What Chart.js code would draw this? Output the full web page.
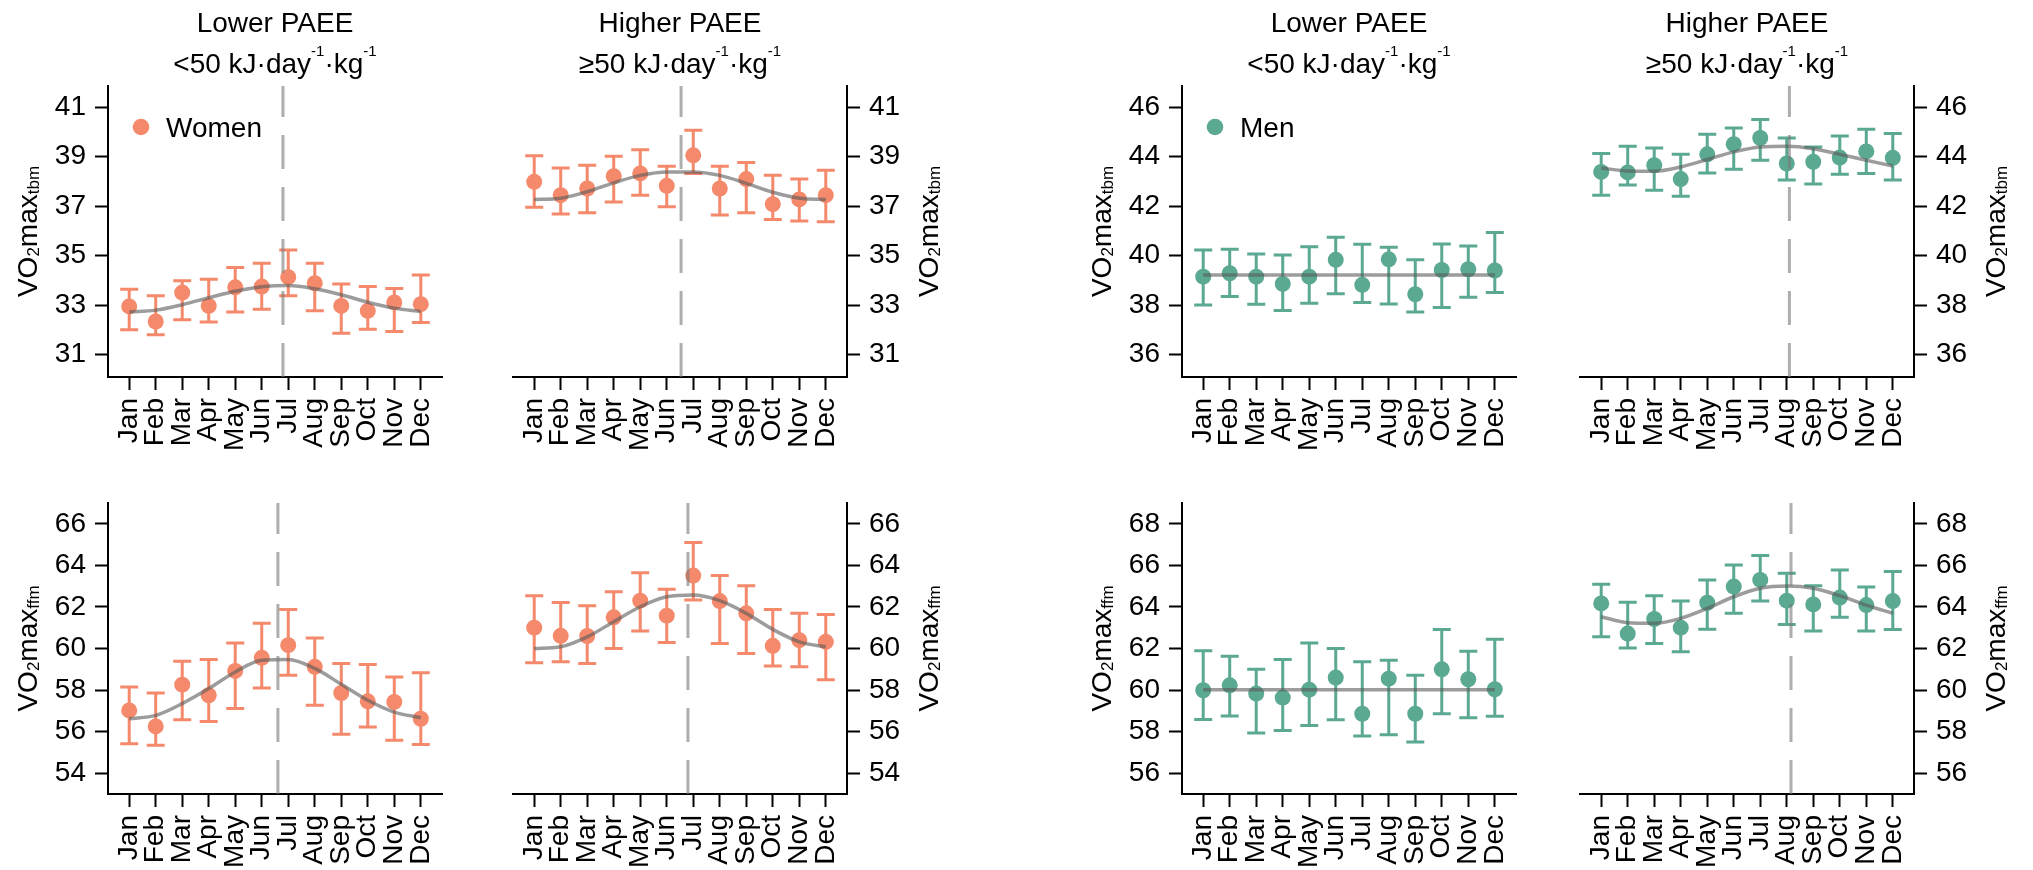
<!DOCTYPE html>
<html>
<head>
<meta charset="utf-8">
<script src="https://cdn.jsdelivr.net/npm/chart.js@4.4.1/dist/chart.umd.min.js"></script>
<style>
  body { margin: 0; background: #fff; width: 2033px; height: 870px; overflow: hidden; position: relative; }
  canvas { position: absolute; }
</style>
</head>
<body>
<canvas id="c1"></canvas>
<canvas id="c2"></canvas>
<canvas id="c3"></canvas>
<canvas id="c4"></canvas>
<canvas id="c5"></canvas>
<canvas id="c6"></canvas>
<canvas id="c7"></canvas>
<canvas id="c8"></canvas>
<script>
/* Data */
const MONTHS = ['Jan', 'Feb', 'Mar', 'Apr', 'May', 'Jun', 'Jul', 'Aug', 'Sep', 'Oct', 'Nov', 'Dec'];

const TICKS_W_TBM = [31, 33, 35, 37, 39, 41];
const TICKS_M_TBM = [36, 38, 40, 42, 44, 46];
const TICKS_W_FFM = [54, 56, 58, 60, 62, 64, 66];
const TICKS_M_FFM = [56, 58, 60, 62, 64, 66, 68];

// Women, lower PAEE, tbm
const W_LOW_TBM = [32.95, 32.34, 33.51, 32.97, 33.72, 33.75, 34.13, 33.89, 32.97, 32.77, 33.11, 33.04];
const W_LOW_TBM_LO = [32.01, 31.81, 32.41, 32.32, 32.72, 32.84, 33.38, 32.77, 31.87, 32.03, 31.94, 32.30];
const W_LOW_TBM_HI = [33.64, 33.38, 33.99, 34.05, 34.52, 34.69, 35.23, 34.69, 33.86, 33.75, 33.67, 34.22];
const W_LOW_TBM_FIT = [32.72, 32.80, 33.02, 33.30, 33.56, 33.74, 33.79, 33.66, 33.42, 33.12, 32.88, 32.74];
const W_LOW_TBM_PEAK = 5.8;

// Women, higher PAEE, tbm
const W_HIGH_TBM = [37.98, 37.44, 37.71, 38.21, 38.32, 37.82, 39.05, 37.71, 38.09, 37.08, 37.27, 37.44];
const W_HIGH_TBM_LO = [36.95, 36.68, 36.73, 37.17, 37.44, 36.97, 38.32, 36.64, 36.73, 36.46, 36.40, 36.37];
const W_HIGH_TBM_HI = [39.03, 38.54, 38.65, 39.01, 39.28, 38.61, 40.06, 38.61, 38.76, 38.25, 38.09, 38.45];
const W_HIGH_TBM_FIT = [37.27, 37.32, 37.58, 37.94, 38.24, 38.38, 38.38, 38.24, 37.92, 37.56, 37.32, 37.27];
const W_HIGH_TBM_PEAK = 5.54;

// Men, lower PAEE, tbm
const M_LOW_TBM = [39.15, 39.29, 39.15, 38.86, 39.15, 39.83, 38.82, 39.85, 38.44, 39.42, 39.45, 39.40];
const M_LOW_TBM_LO = [38.01, 38.35, 38.04, 37.79, 38.08, 38.46, 38.11, 38.05, 37.72, 37.91, 38.32, 38.51];
const M_LOW_TBM_HI = [40.23, 40.26, 40.07, 40.03, 40.36, 40.74, 40.46, 40.34, 39.83, 40.47, 40.39, 40.93];
const M_LOW_TBM_FIT = [39.22, 39.22, 39.22, 39.22, 39.22, 39.22, 39.22, 39.22, 39.22, 39.22, 39.22, 39.22];

// Men, higher PAEE, tbm
const M_HIGH_TBM = [43.38, 43.36, 43.65, 43.09, 44.09, 44.50, 44.75, 43.72, 43.79, 43.96, 44.21, 43.95];
const M_HIGH_TBM_LO = [42.44, 42.85, 42.64, 42.40, 43.34, 43.49, 43.85, 43.05, 42.89, 43.29, 43.32, 43.05];
const M_HIGH_TBM_HI = [44.12, 44.42, 44.35, 44.09, 44.90, 45.15, 45.50, 44.75, 44.39, 44.83, 45.10, 44.93];
const M_HIGH_TBM_FIT = [43.54, 43.42, 43.41, 43.58, 43.88, 44.19, 44.39, 44.42, 44.32, 44.09, 43.85, 43.62];
const M_HIGH_TBM_PEAK = 7.1;

// Women, lower PAEE, ffm
const W_LOW_FFM = [57.02, 56.25, 58.26, 57.75, 58.92, 59.55, 60.16, 59.12, 57.86, 57.46, 57.43, 56.62];
const W_LOW_FFM_LO = [55.42, 55.34, 56.57, 56.49, 57.11, 58.10, 58.71, 57.27, 55.87, 56.22, 55.58, 55.38];
const W_LOW_FFM_HI = [58.15, 57.86, 59.39, 59.47, 60.27, 61.21, 61.88, 60.51, 59.28, 59.23, 58.63, 58.83];
const W_LOW_FFM_FIT = [56.62, 56.78, 57.35, 58.07, 58.87, 59.44, 59.47, 59.04, 58.28, 57.51, 56.94, 56.67];
const W_LOW_FFM_PEAK = 5.61;

// Women, higher PAEE, ffm
const W_HIGH_FFM = [61.00, 60.61, 60.60, 61.50, 62.30, 61.58, 63.51, 62.28, 61.69, 60.13, 60.40, 60.32];
const W_HIGH_FFM_LO = [59.31, 59.36, 59.28, 60.00, 60.84, 60.29, 62.33, 60.24, 59.76, 59.16, 59.12, 58.50];
const W_HIGH_FFM_HI = [62.54, 62.21, 62.06, 62.73, 63.65, 62.85, 65.10, 63.51, 63.02, 61.88, 61.69, 61.64];
const W_HIGH_FFM_FIT = [60.00, 60.08, 60.56, 61.29, 62.01, 62.49, 62.57, 62.30, 61.69, 60.92, 60.32, 60.08];
const W_HIGH_FFM_PEAK = 5.8;

// Men, lower PAEE, ffm
const M_LOW_FFM = [59.99, 60.23, 59.83, 59.64, 60.02, 60.60, 58.86, 60.55, 58.86, 61.00, 60.52, 60.04];
const M_LOW_FFM_LO = [58.59, 58.75, 57.93, 58.06, 58.30, 58.57, 57.79, 57.85, 57.50, 58.86, 58.67, 58.74];
const M_LOW_FFM_HI = [61.89, 61.63, 61.00, 61.47, 62.27, 62.00, 61.36, 61.44, 60.71, 62.92, 61.87, 62.45];
const M_LOW_FFM_FIT = [60.02, 60.02, 60.02, 60.02, 60.02, 60.02, 60.02, 60.02, 60.02, 60.02, 60.02, 60.02];

// Men, higher PAEE, ffm
const M_HIGH_FFM = [64.17, 62.72, 63.42, 63.00, 64.20, 64.98, 65.30, 64.30, 64.12, 64.45, 64.09, 64.28];
const M_HIGH_FFM_LO = [62.56, 62.03, 62.24, 61.84, 62.93, 63.69, 64.28, 63.16, 62.84, 63.50, 62.84, 62.92];
const M_HIGH_FFM_HI = [65.09, 64.22, 64.54, 64.28, 65.30, 66.02, 66.47, 65.62, 65.02, 65.78, 64.96, 65.70];
const M_HIGH_FFM_FIT = [63.53, 63.24, 63.21, 63.45, 63.93, 64.49, 64.90, 65.01, 64.90, 64.54, 64.09, 63.69];
const M_HIGH_FFM_PEAK = 7.16;

/* Styles */
const WOMEN = '#F4896B';
const MEN = '#5BA893';
const FIT_COLOR = 'rgba(90,90,90,0.6)';
const DASH_COLOR = 'rgba(120,120,120,0.6)';
const FONT = '"Liberation Sans", Arial, sans-serif';

Chart.defaults.font.family = FONT;
Chart.defaults.font.size = 28;
Chart.defaults.color = '#000';

/* Panel layout: canvas box + chart area padding */
const TOP = { top: 0, h: 455, padT: 86, axisH: 78 };
const BOT = { top: 455, h: 415, padT: 48, axisH: 76 };
const COLS = [
  { left: 0, w: 470, side: 'left', padL: 0, axisW: 108, padR: 28 },
  { left: 470, w: 490, side: 'right', padL: 43, axisW: 113, padR: 0 },
  { left: 1060, w: 500, side: 'left', padL: 0, axisW: 122, padR: 44 },
  { left: 1560, w: 473, side: 'right', padL: 20, axisW: 119, padR: 0 }
];

const PANELS = [
  { id: 'c1', row: TOP, col: COLS[0], mean: W_LOW_TBM, lo: W_LOW_TBM_LO, hi: W_LOW_TBM_HI, fit: W_LOW_TBM_FIT, peak: W_LOW_TBM_PEAK,
    ticks: TICKS_W_TBM, min: 30.1, max: 41.85, color: WOMEN, title: ['Lower PAEE', '<50'], sub: 'tbm', legend: 'Women' },
  { id: 'c2', row: TOP, col: COLS[1], mean: W_HIGH_TBM, lo: W_HIGH_TBM_LO, hi: W_HIGH_TBM_HI, fit: W_HIGH_TBM_FIT, peak: W_HIGH_TBM_PEAK,
    ticks: TICKS_W_TBM, min: 30.1, max: 41.85, color: WOMEN, title: ['Higher PAEE', '\u226550'], sub: 'tbm' },
  { id: 'c3', row: TOP, col: COLS[2], mean: M_LOW_TBM, lo: M_LOW_TBM_LO, hi: M_LOW_TBM_HI, fit: M_LOW_TBM_FIT, peak: null,
    ticks: TICKS_M_TBM, min: 35.1, max: 46.85, color: MEN, title: ['Lower PAEE', '<50'], sub: 'tbm', legend: 'Men' },
  { id: 'c4', row: TOP, col: COLS[3], mean: M_HIGH_TBM, lo: M_HIGH_TBM_LO, hi: M_HIGH_TBM_HI, fit: M_HIGH_TBM_FIT, peak: M_HIGH_TBM_PEAK,
    ticks: TICKS_M_TBM, min: 35.1, max: 46.85, color: MEN, title: ['Higher PAEE', '\u226550'], sub: 'tbm' },
  { id: 'c5', row: BOT, col: COLS[0], mean: W_LOW_FFM, lo: W_LOW_FFM_LO, hi: W_LOW_FFM_HI, fit: W_LOW_FFM_FIT, peak: W_LOW_FFM_PEAK,
    ticks: TICKS_W_FFM, min: 53, max: 67, color: WOMEN, sub: 'ffm' },
  { id: 'c6', row: BOT, col: COLS[1], mean: W_HIGH_FFM, lo: W_HIGH_FFM_LO, hi: W_HIGH_FFM_HI, fit: W_HIGH_FFM_FIT, peak: W_HIGH_FFM_PEAK,
    ticks: TICKS_W_FFM, min: 53, max: 67, color: WOMEN, sub: 'ffm' },
  { id: 'c7', row: BOT, col: COLS[2], mean: M_LOW_FFM, lo: M_LOW_FFM_LO, hi: M_LOW_FFM_HI, fit: M_LOW_FFM_FIT, peak: null,
    ticks: TICKS_M_FFM, min: 55, max: 69, color: MEN, sub: 'ffm' },
  { id: 'c8', row: BOT, col: COLS[3], mean: M_HIGH_FFM, lo: M_HIGH_FFM_LO, hi: M_HIGH_FFM_HI, fit: M_HIGH_FFM_FIT, peak: M_HIGH_FFM_PEAK,
    ticks: TICKS_M_FFM, min: 55, max: 69, color: MEN, sub: 'ffm' }
];
const PANEL_BY_ID = {};
PANELS.forEach(p => { PANEL_BY_ID[p.id] = p; });

/* Text with sub/superscripts: segs = [[text, size, dy], ...] centred on x */
function drawRich(ctx, segs, x, y) {
  let total = 0;
  segs.forEach(s => { ctx.font = s[1] + 'px ' + FONT; total += ctx.measureText(s[0]).width; });
  let cx = x - total / 2;
  ctx.textAlign = 'left';
  ctx.textBaseline = 'alphabetic';
  segs.forEach(s => {
    ctx.font = s[1] + 'px ' + FONT;
    ctx.fillText(s[0], cx, y + s[2]);
    cx += ctx.measureText(s[0]).width;
  });
}

const decor = {
  id: 'decor',
  beforeDatasetsDraw(chart) {
    const p = PANEL_BY_ID[chart.canvas.id];
    const xs = chart.scales.x, ys = chart.scales.y, ctx = chart.ctx;
    /* error bars */
    ctx.save();
    ctx.strokeStyle = p.color;
    ctx.lineWidth = 3;
    p.lo.forEach((l, i) => {
      const x = xs.getPixelForValue(i);
      const y1 = ys.getPixelForValue(l), y2 = ys.getPixelForValue(p.hi[i]);
      ctx.beginPath();
      ctx.moveTo(x, y1); ctx.lineTo(x, y2);
      ctx.moveTo(x - 9, y1); ctx.lineTo(x + 9, y1);
      ctx.moveTo(x - 9, y2); ctx.lineTo(x + 9, y2);
      ctx.stroke();
    });
    ctx.restore();
  },
  afterDatasetsDraw(chart) {
    const p = PANEL_BY_ID[chart.canvas.id];
    if (p.peak === null) return;
    const a = chart.chartArea, ctx = chart.ctx;
    const x = chart.scales.x.getPixelForValue(p.peak);
    ctx.save();
    ctx.strokeStyle = DASH_COLOR;
    ctx.lineWidth = 3;
    ctx.setLineDash([34, 18]);
    ctx.beginPath();
    ctx.moveTo(x, a.bottom); ctx.lineTo(x, a.top);
    ctx.stroke();
    ctx.restore();
  },
  afterDraw(chart) {
    const p = PANEL_BY_ID[chart.canvas.id];
    const a = chart.chartArea, ctx = chart.ctx;
    ctx.save();
    ctx.fillStyle = '#000';
    const mid = (a.left + a.right) / 2;
    /* titles */
    if (p.title) {
      drawRich(ctx, [[p.title[0], 28, 0]], mid, 32);
      drawRich(ctx, [[p.title[1] + ' kJ\u00b7day', 28, 0], ['-1', 15, -17], ['\u00b7kg', 28, 0], ['-1', 15, -17]], mid, 73);
    }
    /* y axis title */
    const tx = p.col.side === 'left' ? a.left - 81 : a.right + 81;
    ctx.translate(tx, (a.top + a.bottom) / 2);
    ctx.rotate(-Math.PI / 2);
    drawRich(ctx, [['VO', 28, 0], ['2', 17, 2], ['max', 28, 0], [p.sub, 17, 2]], 0, 10);
    ctx.restore();
    /* legend */
    if (p.legend) {
      ctx.save();
      ctx.fillStyle = p.color;
      ctx.beginPath();
      ctx.arc(a.left + 33, a.top + 41, 8.3, 0, Math.PI * 2);
      ctx.fill();
      ctx.fillStyle = '#000';
      ctx.font = '28px ' + FONT;
      ctx.textAlign = 'left';
      ctx.textBaseline = 'alphabetic';
      ctx.fillText(p.legend, a.left + 58, a.top + 51);
      ctx.restore();
    }
  }
};

const axisGrid = { drawOnChartArea: false, drawTicks: true, tickLength: 13, tickWidth: 2, tickColor: '#000' };
const axisBorder = { display: true, color: '#000', width: 2 };

PANELS.forEach(p => {
  const cv = document.getElementById(p.id);
  cv.width = p.col.w;
  cv.height = p.row.h;
  cv.style.left = p.col.left + 'px';
  cv.style.top = p.row.top + 'px';

  new Chart(cv, {
    type: 'line',
    data: {
      datasets: [
        {
          label: 'fit',
          data: p.fit.map((v, i) => ({ x: i, y: v })),
          borderColor: FIT_COLOR,
          borderWidth: 3.5,
          pointRadius: 0,
          cubicInterpolationMode: 'monotone',
          order: 1
        },
        {
          label: 'mean',
          data: p.mean.map((v, i) => ({ x: i, y: v })),
          showLine: false,
          pointRadius: 8,
          pointBorderWidth: 0,
          pointBackgroundColor: p.color,
          borderColor: p.color,
          order: 2
        }
      ]
    },
    options: {
      responsive: false,
      animation: false,
      events: [],
      layout: {
        autoPadding: false,
        padding: { top: p.row.padT, left: p.col.padL, right: p.col.padR, bottom: 0 }
      },
      plugins: { legend: { display: false }, tooltip: { enabled: false } },
      scales: {
        x: {
          type: 'linear',
          min: -0.8,
          max: 11.8,
          afterBuildTicks: s => { s.ticks = MONTHS.map((m, i) => ({ value: i })); },
          afterFit: s => { s.height = p.row.axisH; },
          border: axisBorder,
          grid: axisGrid,
          ticks: { autoSkip: false, minRotation: 90, maxRotation: 90, padding: 8, callback: v => MONTHS[v] }
        },
        y: {
          type: 'linear',
          position: p.col.side,
          min: p.min,
          max: p.max,
          afterBuildTicks: s => { s.ticks = p.ticks.map(v => ({ value: v })); },
          afterFit: s => { s.width = p.col.axisW; },
          border: axisBorder,
          grid: axisGrid,
          ticks: { padding: 9, callback: v => v }
        }
      }
    },
    plugins: [decor]
  });
});
</script>
</body>
</html>
